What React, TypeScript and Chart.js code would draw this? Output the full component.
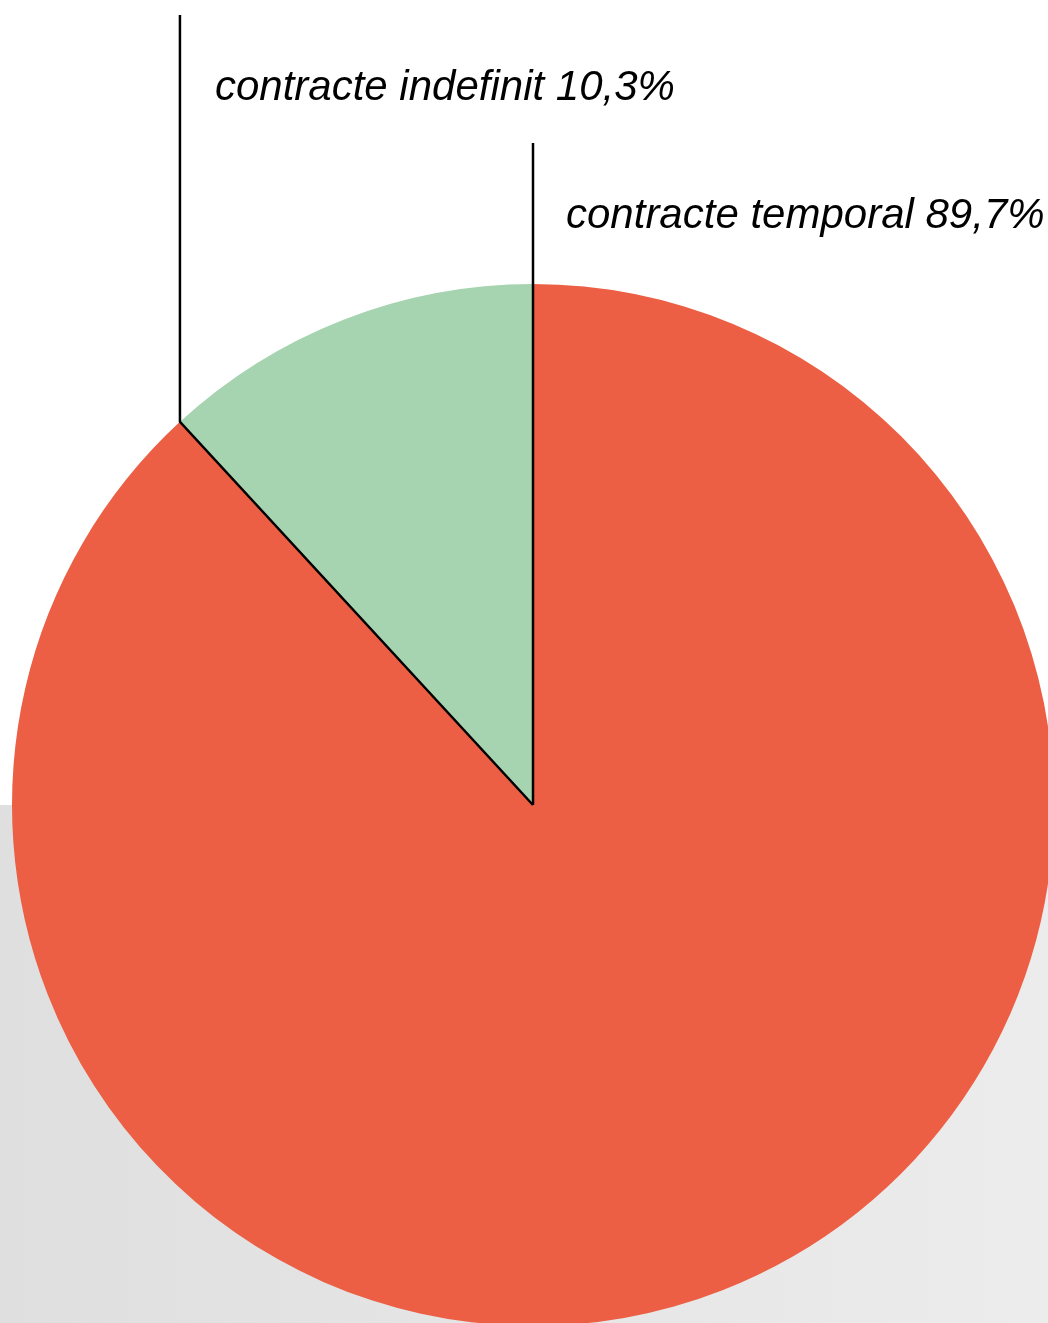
import React, { useEffect, useRef } from "react";
import { Chart, registerables } from "chart.js";

Chart.register(...registerables);

// Drawn shares (the green wedge spans ~42.7°)
const categories = ["contracte temporal", "contracte indefinit"];
const drawnShares = [88.15, 11.85];
const labelTexts = ["contracte temporal 89,7%", "contracte indefinit 10,3%"];
const sliceColors = ["#EC5F44", "#A6D3B0"];

const leaderPlugin = {
  id: "leaders",
  afterDatasetsDraw(chart: any) {
    const ctx = chart.ctx;
    const meta = chart.getDatasetMeta(0);
    const green = meta.data[1];
    const cx = green.x;
    const cy = green.y;
    const r = green.outerRadius;
    const a = green.startAngle;
    const px = cx + Math.cos(a) * r;
    const py = cy + Math.sin(a) * r;
    ctx.save();
    ctx.strokeStyle = "#000";
    ctx.lineWidth = 2.5;
    ctx.lineCap = "butt";
    ctx.lineJoin = "miter";
    ctx.beginPath();
    ctx.moveTo(cx, cy);
    ctx.lineTo(px, py);
    ctx.lineTo(px, 15);
    ctx.stroke();
    ctx.beginPath();
    ctx.moveTo(cx, cy);
    ctx.lineTo(cx, 143);
    ctx.stroke();
    ctx.fillStyle = "#000";
    ctx.font = "italic 42px 'Liberation Sans', Arial, sans-serif";
    ctx.textBaseline = "alphabetic";
    ctx.textAlign = "left";
    ctx.fillText(labelTexts[1], px + 35, 100);
    ctx.fillText(labelTexts[0], cx + 33, 228);
    ctx.restore();
  },
};

export default function App() {
  const ref = useRef<HTMLCanvasElement | null>(null);
  useEffect(() => {
    if (!ref.current) return;
    const chart = new Chart(ref.current, {
      type: "pie",
      data: {
        labels: categories,
        datasets: [
          {
            data: drawnShares,
            backgroundColor: sliceColors,
            borderWidth: 0,
          },
        ],
      },
      options: {
        animation: false,
        responsive: false,
        maintainAspectRatio: false,
        layout: { padding: { left: 12, right: 46, top: 284, bottom: 74 } },
        plugins: {
          legend: { display: false },
          tooltip: { enabled: false },
          title: { display: false },
        },
      },
      plugins: [leaderPlugin],
    });
    return () => chart.destroy();
  }, []);
  return (
    <div
      style={{
        position: "fixed",
        left: 0,
        top: 0,
        width: 1048,
        height: 1323,
        overflow: "hidden",
        background:
          "linear-gradient(to right, #dfdfdf, #ececec) 0 805px / 100% 518px no-repeat, #ffffff",
      }}
    >
      <canvas
        ref={ref}
        width={1100}
        height={1400}
        style={{ position: "absolute", left: 0, top: 0, width: 1100, height: 1400 }}
      />
    </div>
  );
}
